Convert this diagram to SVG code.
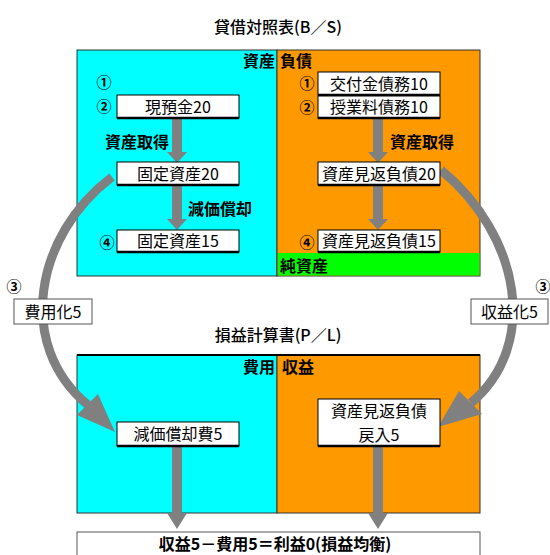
<svg xmlns="http://www.w3.org/2000/svg" width="550" height="555" viewBox="0 0 550 555">
<style>
text{font-family:"Noto Sans CJK JP","Noto Sans CJK SC",sans-serif;fill:#000}
.t{font-size:16px;text-anchor:middle}
.h{font-size:16px;text-anchor:middle;font-weight:500}
.b{font-size:16px;font-weight:bold}
.n{font-size:15px;font-weight:bold;text-anchor:middle}
.box{fill:#fff;stroke:#000;stroke-width:1}
.sh{stroke:#000;stroke-width:2.5}
.cy{fill:#00FFFF;stroke:#333;stroke-width:1}
.or{fill:#FF9900;stroke:#333;stroke-width:1}
.ar{fill:#808080}
.cv{fill:none;stroke:#808080;stroke-width:9}
.lb{fill:#fff;stroke:#555;stroke-width:1}
</style>

<g id="bs">
<text x="278" y="33" class="h">貸借対照表(B／S)</text>
<rect x="77" y="50" width="200" height="226" class="cy"/>
<rect x="277" y="50" width="203" height="226" class="or"/>
<rect x="278" y="253" width="201.5" height="22.5" fill="#00FF00"/>
<text x="275" y="67" class="b" text-anchor="end">資産</text>
<text x="280" y="67" class="b">負債</text>
<text x="280" y="272" class="b">純資産</text>
</g>

<g id="pl">
<text x="278" y="341" class="h">損益計算書(P／L)</text>
<rect x="77" y="355" width="200" height="158" class="cy"/>
<rect x="277" y="355" width="203" height="158" class="or"/>
<line x1="77" y1="355" x2="480" y2="355" stroke="#000" stroke-width="2"/>
<text x="275" y="373" class="b" text-anchor="end">費用</text>
<text x="282" y="373" class="b">収益</text>
</g>

<g id="connectors">
<path class="cv" d="M112,177 C35,235 15,345 88,405"/>
<polygon class="ar" points="115,432 77,415 98,394"/>
<path class="cv" d="M441,170 C520,235 540,345 471,403"/>
<polygon class="ar" points="438,427 459,391 482,414"/>
<polygon class="ar" points="172,118 182,118 182,152 187,152 177,163 167,152 172,152"/>
<polygon class="ar" points="172,185 182,185 182,219 187,219 177,230 167,219 172,219"/>
<polygon class="ar" points="373,118 383,118 383,152 388,152 378,163 368,152 373,152"/>
<polygon class="ar" points="373,185 383,185 383,219 388,219 378,230 368,219 373,219"/>
<polygon class="ar" points="172,446 182,446 182,513 187,513 177,529 167,513 172,513"/>
<polygon class="ar" points="373,446 383,446 383,513 388,513 378,529 368,513 373,513"/>
</g>

<g id="labels">
<text x="105" y="148" class="b">資産取得</text>
<text x="188" y="215" class="b">減価償却</text>
<text x="390" y="148" class="b">資産取得</text>
<text x="104" y="88" class="n">①</text>
<text x="104" y="112" class="n">②</text>
<text x="107" y="248" class="n">④</text>
<text x="307" y="89" class="n">①</text>
<text x="307" y="113" class="n">②</text>
<text x="307" y="248" class="n">④</text>
<text x="14" y="292" class="n">③</text>
<text x="543" y="292" class="n">③</text>
</g>

<g id="n-genyokin"><rect x="117" y="95" width="122" height="23" class="box"/><line x1="117" y1="118" x2="239" y2="118" class="sh"/><text x="178" y="112.5" class="t">現預金20</text></g>
<g id="n-kotei20"><rect x="117" y="162" width="122" height="23" class="box"/><line x1="117" y1="185" x2="239" y2="185" class="sh"/><text x="178" y="179.5" class="t">固定資産20</text></g>
<g id="n-kotei15"><rect x="117" y="230" width="122" height="22" class="box"/><line x1="117" y1="252" x2="239" y2="252" class="sh"/><text x="178" y="247" class="t">固定資産15</text></g>
<g id="n-kofukin"><rect x="318" y="72" width="122" height="23" class="box"/><line x1="318" y1="95" x2="440" y2="95" class="sh"/><text x="379" y="89.5" class="t">交付金債務10</text></g>
<g id="n-jugyoryo"><rect x="318" y="96" width="122" height="22" class="box"/><line x1="318" y1="118" x2="440" y2="118" class="sh"/><text x="379" y="113" class="t">授業料債務10</text></g>
<g id="n-mikaeri20"><rect x="318" y="162" width="122" height="23" class="box"/><line x1="318" y1="185" x2="440" y2="185" class="sh"/><text x="379" y="179.5" class="t">資産見返負債20</text></g>
<g id="n-mikaeri15"><rect x="318" y="230" width="122" height="22" class="box"/><line x1="318" y1="252" x2="440" y2="252" class="sh"/><text x="379" y="247" class="t">資産見返負債15</text></g>

<g id="n-hiyoka"><rect x="14" y="299" width="78" height="25" class="lb"/><text x="53" y="317.5" class="t">費用化5</text></g>
<g id="n-shuekika"><rect x="471" y="299" width="77" height="25" class="lb"/><text x="509.5" y="317.5" class="t">収益化5</text></g>

<g id="n-genkashokyakuhi"><rect x="117" y="422" width="122" height="24" class="box"/><line x1="117" y1="446" x2="239" y2="446" class="sh"/><text x="178" y="440" class="t">減価償却費5</text></g>
<g id="n-modoshiire"><rect x="318" y="399" width="122" height="47" class="box"/><line x1="318" y1="446" x2="440" y2="446" class="sh"/><text x="379" y="417" class="t">資産見返負債</text><text x="379" y="441" class="t">戻入5</text></g>

<g id="n-result"><rect x="77" y="532" width="403" height="30" class="lb"/><text x="275" y="550" class="b" text-anchor="middle">収益5－費用5＝利益0(損益均衡)</text></g>
</svg>
